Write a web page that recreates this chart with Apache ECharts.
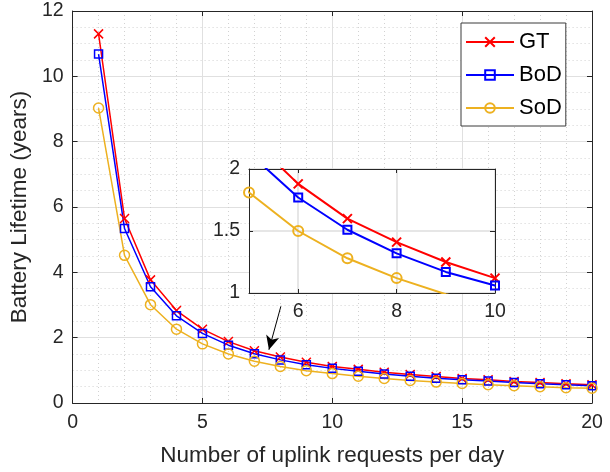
<!DOCTYPE html>
<html>
<head>
<meta charset="utf-8">
<script src="https://cdn.jsdelivr.net/npm/echarts@6/dist/echarts.min.js"></script>
<style>
  html, body { margin: 0; padding: 0; background: #fff; }
  #chart { width: 610px; height: 472px; }
</style>
</head>
<body>
<div id="chart"></div>
<script>
// uplink requests per day
const requests = [1, 2, 3, 4, 5, 6, 7, 8, 9, 10, 11, 12, 13, 14, 15, 16, 17, 18, 19, 20];
// battery lifetime in years
const gtLife  = [11.3, 5.65, 3.77, 2.83, 2.26, 1.88, 1.6, 1.41, 1.25, 1.12, 1.03, 0.94, 0.87, 0.81, 0.75, 0.71, 0.66, 0.63, 0.59, 0.56];
const bodLife = [10.68, 5.34, 3.56, 2.67, 2.13, 1.77, 1.51, 1.32, 1.17, 1.06, 0.97, 0.89, 0.82, 0.76, 0.71, 0.67, 0.63, 0.59, 0.56, 0.53];
const sodLife = [9.03, 4.52, 3.01, 2.26, 1.81, 1.5, 1.28, 1.12, 0.99, 0.9, 0.82, 0.75, 0.69, 0.64, 0.6, 0.56, 0.53, 0.5, 0.47, 0.45];
const insetXTicks = [6, 8, 10];
// arrow from the zoom box down to the curves
const arrowFrom = [8.02, 2.96];
const arrowTo = [7.56, 1.63];

const FONT = 'Liberation Sans';
const INK = '#262626';
const crossPath = 'path://M0,0L10,10M0,10L10,0';

const pairs = (ys) => requests.map((x, i) => [x, ys[i]]);

const seriesDefs = [
  { name: 'GT',  data: gtLife,  color: '#ff0000', symbol: crossPath, size: 9 },
  { name: 'BoD', data: bodLife, color: '#0000ff', symbol: 'rect',    size: 8 },
  { name: 'SoD', data: sodLife, color: '#edb120', symbol: 'circle',  size: 10 },
];

const frameAxis = (gridIndex, position, extra) => Object.assign({
  gridIndex, position, type: 'value',
  axisLine: { show: true, onZero: false, lineStyle: { color: INK, width: 1 } },
  axisTick: { show: true, inside: true, length: 5, lineStyle: { color: INK } },
  axisLabel: { show: false },
  splitLine: { show: false },
}, extra);

const labelStyle = { color: INK, fontFamily: FONT, fontSize: 19.5 };
const titleStyle = { color: INK, fontFamily: FONT, fontSize: 22.5 };

const makeSeries = (def, axisIdx, width, z) => ({
  type: 'line',
  name: def.name,
  xAxisIndex: axisIdx,
  yAxisIndex: axisIdx,
  data: pairs(def.data),
  symbol: def.symbol,
  symbolSize: def.size,
  showAllSymbol: true,
  clip: true,
  z: z,
  lineStyle: { color: def.color, width: width },
  itemStyle: { color: 'transparent', borderColor: def.color, borderWidth: width },
  emphasis: { disabled: true },
});

const series = [];
seriesDefs.forEach(def => series.push(makeSeries(def, 0, 1.5, 2)));
seriesDefs.forEach(def => series.push(makeSeries(def, 1, 2, 12)));

series[0].markLine = {
  silent: true,
  symbol: ['none', 'arrow'],
  symbolSize: [10, 14],
  label: { show: false },
  lineStyle: { color: '#000', width: 1, type: 'solid' },
  emphasis: { disabled: true },
  data: [[{ coord: arrowFrom }, { coord: arrowTo }]],
};

const chart = echarts.init(document.getElementById('chart'), null, { renderer: 'canvas' });
chart.setOption({
  animation: false,
  backgroundColor: '#fff',
  textStyle: { fontFamily: FONT },
  legend: {
    data: seriesDefs.map(d => d.name),
    orient: 'vertical',
    left: 461,
    top: 23,
    padding: [8, 4, 7, 4],
    itemWidth: 48,
    itemHeight: 12,
    itemGap: 11,
    backgroundColor: '#fff',
    borderColor: '#3a3a3a',
    borderWidth: 1,
    borderRadius: 0,
    z: 20,
    selectedMode: false,
    textStyle: { color: '#000', fontFamily: FONT, fontSize: 22, lineHeight: 20 },
  },
  grid: [
    { left: 71, top: 11, width: 521, height: 396, containLabel: false },
    { left: 249, top: 169, width: 246, height: 124, show: true, backgroundColor: '#fff', borderWidth: 0, z: 10 },
  ],
  xAxis: [
    {
      gridIndex: 0, type: 'value', min: 0, max: 20, interval: 5,
      name: 'Number of uplink requests per day', nameLocation: 'middle', nameGap: 41,
      nameTextStyle: titleStyle,
      axisLine: { show: true, onZero: false, lineStyle: { color: INK, width: 1 } },
      axisTick: { show: true, inside: true, length: 5, lineStyle: { color: INK } },
      axisLabel: Object.assign({ margin: 10 }, labelStyle),
      splitLine: { show: true, lineStyle: { color: '#e0e0e0', width: 1 } },
      minorTick: { show: false, splitNumber: 5 },
      minorSplitLine: { show: true, lineStyle: { color: '#d2d2d2', width: 1, type: [1, 3] } },
    },
    {
      gridIndex: 1, type: 'value', min: 5, max: 10, z: 11,
      axisLine: { show: true, onZero: false, lineStyle: { color: INK, width: 1 } },
      axisTick: { show: true, inside: true, length: 4, customValues: insetXTicks, lineStyle: { color: INK } },
      axisLabel: Object.assign({ margin: 9, customValues: insetXTicks }, labelStyle),
      splitLine: { show: true, lineStyle: { color: '#dedede', width: 1.5 } },
    },
    frameAxis(0, 'top', { min: 0, max: 20, interval: 5 }),
    frameAxis(1, 'top', { min: 5, max: 10, z: 11,
      axisTick: { show: true, inside: true, length: 4, customValues: insetXTicks, lineStyle: { color: INK } } }),
  ],
  yAxis: [
    {
      gridIndex: 0, type: 'value', min: 0, max: 12, interval: 2,
      name: 'Battery Lifetime (years)', nameLocation: 'middle', nameGap: 37,
      nameTextStyle: titleStyle,
      axisLine: { show: true, onZero: false, lineStyle: { color: INK, width: 1 } },
      axisTick: { show: true, inside: true, length: 5, lineStyle: { color: INK } },
      axisLabel: Object.assign({ margin: 9 }, labelStyle),
      splitLine: { show: true, lineStyle: { color: '#e0e0e0', width: 1 } },
      minorTick: { show: false, splitNumber: 4 },
      minorSplitLine: { show: true, lineStyle: { color: '#d2d2d2', width: 1, type: [1, 3] } },
    },
    {
      gridIndex: 1, type: 'value', min: 1, max: 2, interval: 0.5, z: 11,
      axisLine: { show: true, onZero: false, lineStyle: { color: INK, width: 1 } },
      axisTick: { show: true, inside: true, length: 4, lineStyle: { color: INK } },
      axisLabel: Object.assign({ margin: 9 }, labelStyle),
      splitLine: { show: true, lineStyle: { color: '#dedede', width: 1.5 } },
    },
    frameAxis(0, 'right', { min: 0, max: 12, interval: 2 }),
    frameAxis(1, 'right', { min: 1, max: 2, interval: 0.5, z: 11 }),
  ],
  series: series,
});
</script>
</body>
</html>
